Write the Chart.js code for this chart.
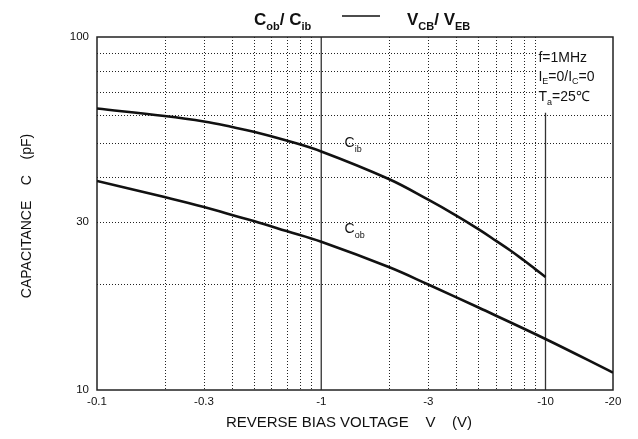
<!DOCTYPE html>
<html>
<head>
    <title>Cob / Cib vs VCB / VEB</title>
    <script src="https://cdn.jsdelivr.net/npm/chart.js"></script>
    <style>
        body { margin: 0; background: #fff; }
    </style>
</head>
<body>
    <canvas id="capChart" width="638" height="439"></canvas>
    <script>
        // Values (log-log, voltage shown as magnitude)
        const cibVolts = [0.1, 0.2, 0.3, 0.4, 0.5, 0.7, 1, 2, 3, 4, 5, 6, 7, 8, 9, 10];
        const cibCap = [62.7, 59.7, 57.6, 55.6, 53.9, 50.9, 47.4, 39.6, 34.6, 31.2, 28.6, 26.5, 24.8, 23.3, 22.0, 20.9];
        const cobVolts = [0.1, 0.2, 0.3, 0.4, 0.5, 0.7, 1, 2, 3, 5, 10, 20];
        const cobCap = [39.1, 35.2, 33.0, 31.3, 30.1, 28.2, 26.3, 22.3, 19.9, 17.15, 13.95, 11.2];

        const xTicks = [0.1, 0.3, 1, 3, 10, 20];
        const xTickLabels = ['-0.1', '-0.3', '-1', '-3', '-10', '-20'];
        const yTicks = [10, 30, 100];
        const yTickLabels = ['10', '30', '100'];

        const xGrid = [0.2, 0.3, 0.4, 0.5, 0.6, 0.7, 0.8, 0.9, 2, 3, 4, 5, 6, 7, 8, 9];
        const xSolid = [1, 10];
        const yGrid = [20, 30, 40, 50, 60, 70, 80, 90];

        const FONT = '"Liberation Sans", Arial, sans-serif';

        function line(ctx, x1, y1, x2, y2) {
            ctx.beginPath();
            ctx.moveTo(x1, y1);
            ctx.lineTo(x2, y2);
            ctx.stroke();
        }

        // draws text pieces left to right, each [text, font, baseline shift]
        function drawRich(ctx, x, y, parts) {
            ctx.textBaseline = 'alphabetic';
            ctx.textAlign = 'left';
            for (const [t, f, dy] of parts) {
                ctx.font = f;
                ctx.fillText(t, x, y + dy);
                x += ctx.measureText(t).width;
            }
            return x;
        }

        const gridPlugin = {
            id: 'gridPlugin',
            beforeDatasetsDraw(chart) {
                const { ctx, chartArea: a, scales: { x, y } } = chart;
                ctx.save();
                ctx.beginPath();
                ctx.rect(a.left, a.top, a.width, a.height);
                ctx.clip();

                ctx.strokeStyle = '#222';
                ctx.lineWidth = 1;
                ctx.setLineDash([1, 2]);
                xGrid.forEach(v => {
                    const px = Math.round(x.getPixelForValue(v)) + 0.5;
                    line(ctx, px, a.top, px, a.bottom);
                });
                yGrid.forEach(v => {
                    const py = Math.round(y.getPixelForValue(v)) + 0.5;
                    line(ctx, a.left, py, a.right, py);
                });

                // blank area behind the test conditions
                const bx = x.getPixelForValue(9.2);
                const by = y.getPixelForValue(61);
                ctx.fillStyle = '#fff';
                ctx.fillRect(bx, a.top, a.right - bx, by - a.top);

                ctx.setLineDash([]);
                ctx.strokeStyle = '#333';
                ctx.lineWidth = 1.3;
                xSolid.forEach(v => {
                    const px = x.getPixelForValue(v);
                    line(ctx, px, v === 10 ? by : a.top, px, a.bottom);
                });
                ctx.restore();

                ctx.save();
                ctx.strokeStyle = '#222';
                ctx.lineWidth = 1.5;
                ctx.strokeRect(a.left, a.top, a.width, a.height);
                ctx.restore();
            },
            afterDraw(chart) {
                const { ctx, chartArea: a, scales: { x, y } } = chart;
                ctx.save();
                ctx.fillStyle = '#111';
                ctx.strokeStyle = '#111';

                // title
                const big = 'bold 17px ' + FONT;
                const sub = 'bold 11px ' + FONT;
                drawRich(ctx, 254, 25, [['C', big, 0], ['ob', sub, 5], ['/ C', big, 0], ['ib', sub, 5]]);
                ctx.lineWidth = 1.5;
                line(ctx, 342, 16, 380, 16);
                drawRich(ctx, 407, 25, [['V', big, 0], ['CB', sub, 5], ['/ V', big, 0], ['EB', sub, 5]]);

                // test conditions
                const t = '14px ' + FONT;
                const ts = '9px ' + FONT;
                const tx = x.getPixelForValue(9.3);
                drawRich(ctx, tx, a.top + 25, [['f=1MHz', t, 0]]);
                drawRich(ctx, tx, a.top + 44, [['I', t, 0], ['E', ts, 3], ['=0/I', t, 0], ['C', ts, 3], ['=0', t, 0]]);
                drawRich(ctx, tx, a.top + 64, [['T', t, 0], ['a', ts, 4], ['=25\u2103', t, 0]]);

                // curve labels
                const c = '14px ' + FONT;
                const cs = '9px ' + FONT;
                drawRich(ctx, x.getPixelForValue(1.27), y.getPixelForValue(48.8), [['C', c, 0], ['ib', cs, 5]]);
                drawRich(ctx, x.getPixelForValue(1.27), y.getPixelForValue(27.9), [['C', c, 0], ['ob', cs, 5]]);

                // axis titles
                ctx.font = '15px ' + FONT;
                ctx.textAlign = 'center';
                ctx.textBaseline = 'middle';
                ctx.fillText('REVERSE BIAS VOLTAGE    V    (V)', 349, 423);
                ctx.font = '14px ' + FONT;
                ctx.translate(27, 216);
                ctx.rotate(-Math.PI / 2);
                ctx.fillText('CAPACITANCE    C    (pF)', 0, 0);
                ctx.restore();
            }
        };

        new Chart(document.getElementById('capChart').getContext('2d'), {
            type: 'line',
            data: {
                datasets: [
                    {
                        label: 'Cib',
                        data: cibVolts.map((v, i) => ({ x: v, y: cibCap[i] })),
                        borderColor: '#111',
                        borderWidth: 2.6,
                        pointRadius: 0,
                        tension: 0.4,
                    },
                    {
                        label: 'Cob',
                        data: cobVolts.map((v, i) => ({ x: v, y: cobCap[i] })),
                        borderColor: '#111',
                        borderWidth: 2.6,
                        pointRadius: 0,
                        tension: 0.4,
                    },
                ],
            },
            options: {
                responsive: false,
                animation: false,
                layout: { padding: { left: 0, right: 25, top: 37, bottom: 0 } },
                plugins: {
                    legend: { display: false },
                    tooltip: { enabled: false },
                },
                scales: {
                    x: {
                        type: 'logarithmic',
                        min: 0.1,
                        max: 20,
                        grid: { display: false, drawTicks: false },
                        border: { display: false },
                        afterBuildTicks: s => { s.ticks = xTicks.map(v => ({ value: v })); },
                        afterFit: s => { s.height = 49; },
                        ticks: {
                            autoSkip: false,
                            maxRotation: 0,
                            padding: 5,
                            color: '#111',
                            font: { family: FONT, size: 11.5 },
                            callback: (v, i) => xTickLabels[i],
                        },
                    },
                    y: {
                        type: 'logarithmic',
                        min: 10,
                        max: 100,
                        grid: { display: false, drawTicks: false },
                        border: { display: false },
                        afterBuildTicks: s => { s.ticks = yTicks.map(v => ({ value: v })); },
                        afterFit: s => { s.width = 97; },
                        ticks: {
                            autoSkip: false,
                            padding: 8,
                            color: '#111',
                            font: { family: FONT, size: 11.5 },
                            callback: (v, i) => yTickLabels[i],
                        },
                    },
                },
            },
            plugins: [gridPlugin],
        });
    </script>
</body>
</html>
